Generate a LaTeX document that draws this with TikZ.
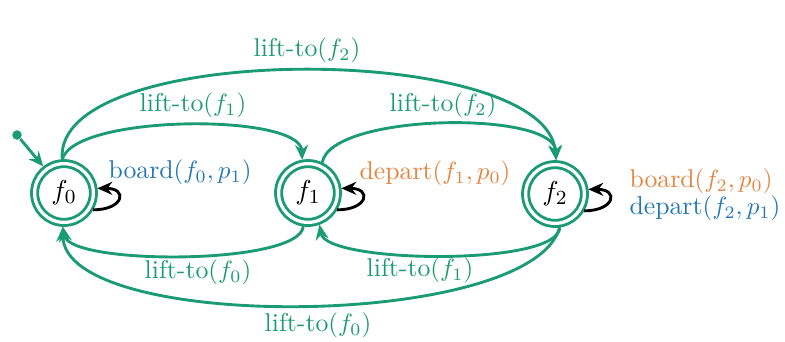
\documentclass[tikz,border=0pt]{standalone}
\usetikzlibrary{arrows.meta}
\definecolor{grn}{RGB}{27,155,115}
\definecolor{org}{RGB}{228,132,62}
\definecolor{blu}{RGB}{35,120,180}
\begin{document}
\begin{tikzpicture}[x=0.4pt,y=-0.4pt,font=\fontsize{10.3}{12.5}\selectfont,
  state/.style={circle,draw=grn,double,double distance=1.3pt,line width=1.15pt,minimum size=23.5pt,inner sep=0pt,outer sep=1.7pt,font=\fontsize{10.8}{13}\selectfont},
  edge/.style={draw=grn,line width=1.15pt,-{Stealth[length=6pt,width=5.2pt]}},
  selfloop/.style={draw=black,line width=1.15pt,-{Stealth[length=6pt,width=5.2pt]}},
  glbl/.style={text=grn,inner sep=0pt},
  olbl/.style={text=org,inner sep=0pt},
  blbl/.style={text=blu,inner sep=0pt},
  initdot/.style={circle,fill=grn,minimum size=3.8pt,inner sep=0pt}]
\useasboundingbox (0,0) rectangle (785,341);
\node[state] (f0) at (64,193) {$f_0$};
\node[state] (f1) at (308,193) {$f_1$};
\node[state] (f2) at (555,194) {$f_2$};
\node[initdot] (init) at (17,135) {};
\draw[edge] (init) -- (f0.128);
% top edges
\draw[edge] (f0.93) to[out=95,in=95,looseness=0.62] (f2.88);
\draw[edge] (f0.93) to[out=75,in=92,looseness=0.5] (f1.100);
\draw[edge] (f1.65) to[out=80,in=92,looseness=0.55] (f2.88);
% bottom edges
\draw[edge] (f1.262) to[out=265,in=280,looseness=0.42] (f0.268);
\draw[edge] (f2.278) to[out=270,in=280,looseness=0.42] (f1.290);
\draw[edge] (f2.278) to[out=255,in=270,looseness=0.55] (f0.268);
% self loops
\draw[selfloop] (f0.-30) to[out=0,in=0,looseness=3.6] (f0.8);
\draw[selfloop] (f1.-30) to[out=0,in=0,looseness=3.6] (f1.8);
\draw[selfloop] (f2.-30) to[out=0,in=0,looseness=3.6] (f2.8);
% labels
\node[glbl] (l02) at (307,50) {lift-to$(f_2)$};
\node[glbl] (l01) at (193,105) {lift-to$(f_1)$};
\node[glbl] (l12) at (443,105) {lift-to$(f_2)$};
\node[glbl] (l10) at (198,272) {lift-to$(f_0)$};
\node[glbl] (l21) at (420,270) {lift-to$(f_1)$};
\node[glbl] (l20) at (318,325) {lift-to$(f_0)$};
\node[blbl] (b0) at (180,172) {board$(f_0,p_1)$};
\node[olbl] (d1) at (435,173) {depart$(f_1,p_0)$};
\node[olbl,anchor=west] (b2) at (629,181) {board$(f_2,p_0)$};
\node[blbl,anchor=west] (d2) at (629,208) {depart$(f_2,p_1)$};
\end{tikzpicture}
\end{document}
